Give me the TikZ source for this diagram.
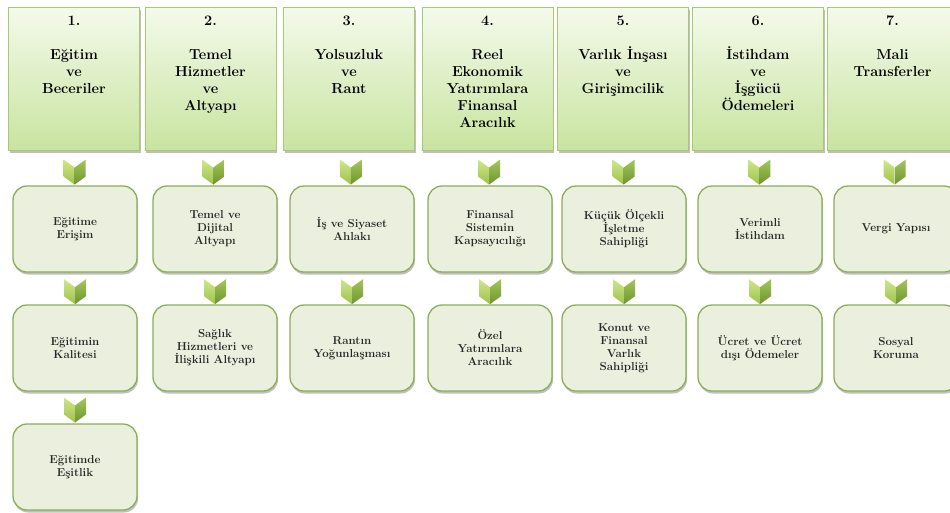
\documentclass[tikz,border=0pt]{standalone}
\usepackage{fontspec}
\usetikzlibrary{shadows}
\definecolor{topA}{HTML}{F4FAEB}
\definecolor{topB}{HTML}{C8E4A0}
\definecolor{topline}{HTML}{A8C872}
\definecolor{rfill}{HTML}{EBF0DE}
\definecolor{rline}{HTML}{8EAD58}
\definecolor{chevLA}{HTML}{CFE78A}
\definecolor{chevLB}{HTML}{9CC24C}
\definecolor{chevRA}{HTML}{A3C75A}
\definecolor{chevRB}{HTML}{6F9530}
\newcommand{\chevronat}[1]{%
  \shade[top color=chevLA, bottom color=chevLB]
    ([shift={(-11,-12.5)}]#1) -- ([shift={(0,-4.5)}]#1) -- ([shift={(0,12.5)}]#1) -- ([shift={(-11,4.5)}]#1) -- cycle;
  \shade[top color=chevRA, bottom color=chevRB]
    ([shift={(0,-4.5)}]#1) -- ([shift={(11,-12.5)}]#1) -- ([shift={(11,4.5)}]#1) -- ([shift={(0,12.5)}]#1) -- cycle;
}
\begin{document}
\begin{tikzpicture}[x=1pt,y=-1pt,
  topbox/.style={rectangle, draw=topline, line width=0.8pt, top color=topA, bottom color=topB,
    minimum width=131pt, minimum height=143pt, inner sep=0pt,
    drop shadow={shadow xshift=1pt, shadow yshift=-2.5pt, opacity=0.25, fill=black}},
  toptext/.style={font=\fontsize{14.5}{17}\selectfont\bfseries, align=center, anchor=north, inner sep=0pt, text=black},
  rbox/.style={rectangle, rounded corners=14pt, draw=rline, line width=1.3pt, fill=rfill,
    minimum width=124pt, minimum height=86pt, inner sep=2pt, align=center,
    font=\fontsize{11.5}{13}\selectfont\bfseries, text=black!85,
    drop shadow={shadow xshift=1pt, shadow yshift=-2.5pt, opacity=0.25, fill=black}}
]
\useasboundingbox[fill=white] (0,0) rectangle (950,512);

% top boxes
\node[topbox] (t1) at (74,78.5) {};
\node[topbox] (t2) at (210.5,78.5) {};
\node[topbox] (t3) at (349,78.5) {};
\node[topbox] (t4) at (487.5,78.5) {};
\node[topbox] (t5) at (623,78.5) {};
\node[topbox] (t6) at (758,78.5) {};
\node[topbox] (t7) at (892.5,78.5) {};

\node[toptext] (h1) at ([yshift=-9pt]t1.north) {1.\\[17pt]Eğitim\\ve\\Beceriler};
\node[toptext] (h2) at ([yshift=-9pt]t2.north) {2.\\[17pt]Temel\\Hizmetler\\ve\\Altyapı};
\node[toptext] (h3) at ([yshift=-9pt]t3.north) {3.\\[17pt]Yolsuzluk\\ve\\Rant};
\node[toptext] (h4) at ([yshift=-9pt]t4.north) {4.\\[17pt]Reel\\Ekonomik\\Yatırımlara\\Finansal\\Aracılık};
\node[toptext] (h5) at ([yshift=-9pt]t5.north) {5.\\[17pt]Varlık İnşası\\ve\\Girişimcilik};
\node[toptext] (h6) at ([yshift=-9pt]t6.north) {6.\\[17pt]İstihdam\\ve\\İşgücü\\Ödemeleri};
\node[toptext] (h7) at ([yshift=-9pt]t7.north) {7.\\[17pt]Mali\\Transferler};

% row 2
\node[rbox] (a1) at (75,229) {Eğitime\\Erişim};
\node[rbox] (a2) at (215,229) {Temel ve\\Dijital\\Altyapı};
\node[rbox] (a3) at (352,229) {İş ve Siyaset\\Ahlakı};
\node[rbox] (a4) at (490,229) {Finansal\\Sistemin\\Kapsayıcılığı};
\node[rbox] (a5) at (624,229) {Küçük Ölçekli\\İşletme\\Sahipliği};
\node[rbox] (a6) at (760,229) {Verimli\\İstihdam};
\node[rbox] (a7) at (896,229) {Vergi Yapısı};

% row 3
\node[rbox] (b1) at (75,348) {Eğitimin\\Kalitesi};
\node[rbox] (b2) at (215,348) {Sağlık\\Hizmetleri ve\\İlişkili Altyapı};
\node[rbox] (b3) at (352,348) {Rantın\\Yoğunlaşması};
\node[rbox] (b4) at (490,348) {Özel\\Yatırımlara\\Aracılık};
\node[rbox] (b5) at (624,348) {Konut ve\\Finansal\\Varlık\\Sahipliği};
\node[rbox] (b6) at (760,348) {Ücret ve Ücret\\dışı Ödemeler};
\node[rbox] (b7) at (896,348) {Sosyal\\Koruma};

% row 4
\node[rbox] (c1) at (75,467) {Eğitimde\\Eşitlik};

% chevrons
\foreach \i in {1,...,7}{
  \path (t\i.south) -- (a\i.north) coordinate[pos=0.62] (ca\i);
  \path (a\i.south) -- (b\i.north) coordinate[pos=0.6] (cb\i);
  \chevronat{ca\i}
  \chevronat{cb\i}
}
\path (b1.south) -- (c1.north) coordinate[pos=0.58] (cc1);
\chevronat{cc1}
\end{tikzpicture}
\end{document}
